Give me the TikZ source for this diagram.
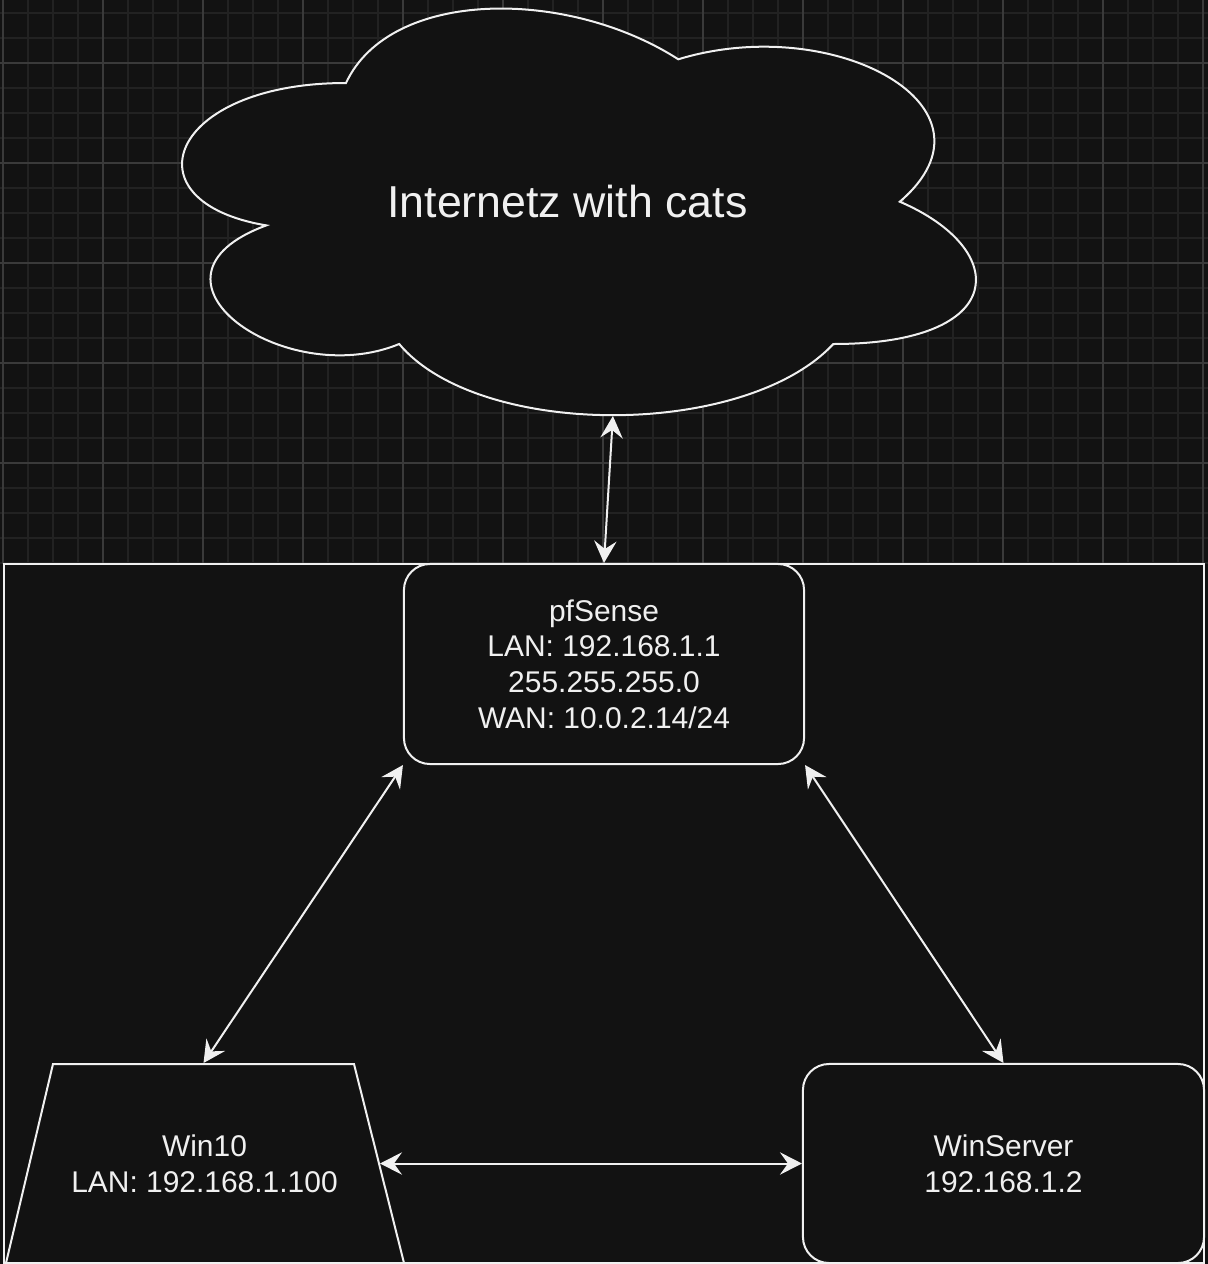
\documentclass[tikz,border=0pt]{standalone}
\usepackage{fontspec}
\setmainfont{Liberation Sans}
\usetikzlibrary{arrows.meta}

\definecolor{canvas}{HTML}{121212}
\definecolor{minorline}{HTML}{222222}
\definecolor{majorline}{HTML}{3A3A3A}
\definecolor{ink}{HTML}{F0F0F0}

\begin{document}
\begin{tikzpicture}[
    x=0.025cm, y=-0.025cm,
    minorgrid/.style={draw=minorline, line width=0.035cm},
    majorgrid/.style={draw=majorline, line width=0.035cm},
    outline/.style={draw=ink, fill=canvas, line width=0.05cm},
    label/.style={text=ink, align=center, inner sep=0pt, font=\fontsize{21.3}{25.3}\selectfont},
    host/.style={outline, label, rectangle, rounded corners=0.65cm},
    arrow/.style={{Stealth[length=0.55cm, width=0.56cm, inset=0.2cm]}-{Stealth[length=0.55cm, width=0.56cm, inset=0.2cm]}, draw=ink, line width=0.05cm}
]

% Canvas
\useasboundingbox (0,0) rectangle (1208,1264);
\fill[canvas] (0,0) rectangle (1208,1264);

% Grid
\foreach \gx in {3,28,...,1203} \draw[minorgrid] (\gx,0) -- (\gx,564);
\foreach \gy in {13,38,...,563} \draw[minorgrid] (0,\gy) -- (1208,\gy);
\foreach \gx in {3,103,...,1203} \draw[majorgrid] (\gx,0) -- (\gx,564);
\foreach \gy in {63,163,...,463} \draw[majorgrid] (0,\gy) -- (1208,\gy);

% LAN area
\draw[outline] (4,564) rectangle (1204,1263);

% Cloud
\draw[outline] (346.0,83.0)
    .. controls (168.8,83.0) and (124.5,201.7) .. (266.3,225.4)
    .. controls (124.5,277.6) and (284.0,391.5) .. (399.2,344.0)
    .. controls (478.9,438.9) and (744.7,438.9) .. (833.3,344.0)
    .. controls (1010.5,344.0) and (1010.5,249.1) .. (899.8,201.7)
    .. controls (1010.5,106.8) and (833.3,11.9) .. (678.3,59.3)
    .. controls (567.5,-11.9) and (390.3,-11.9) .. (346.0,83.0) -- cycle;
\node[text=ink, font=\fontsize{31.8}{38}\selectfont] (inet) at (567.5,201.7) {Internetz with cats};
\coordinate (cloudbot) at (612.9,416);

% pfSense
\node[host, minimum width=10cm, minimum height=5cm] (pf) at (604,664)
    {pfSense\\LAN: 192.168.1.1\\255.255.255.0\\WAN: 10.0.2.14/24};

% Win10
\draw[outline] (6,1263) -- (53,1064) -- (354,1064) -- (404,1263) -- cycle;
\node[label] (win) at (204.5,1163.5) {Win10\\LAN: 192.168.1.100};
\coordinate (wintop) at (203.5,1063);
\coordinate (winright) at (380,1163.5);

% WinServer
\node[host, minimum width=10.025cm, minimum height=4.975cm] (srv) at (1003.5,1163.5)
    {WinServer\\192.168.1.2};

% Links
\draw[arrow] (cloudbot) -- (pf.north);
\draw[arrow] (pf.south west) -- (wintop);
\draw[arrow] (pf.south east) -- (srv.north);
\draw[arrow] (winright) -- (srv.west);

\end{tikzpicture}
\end{document}
